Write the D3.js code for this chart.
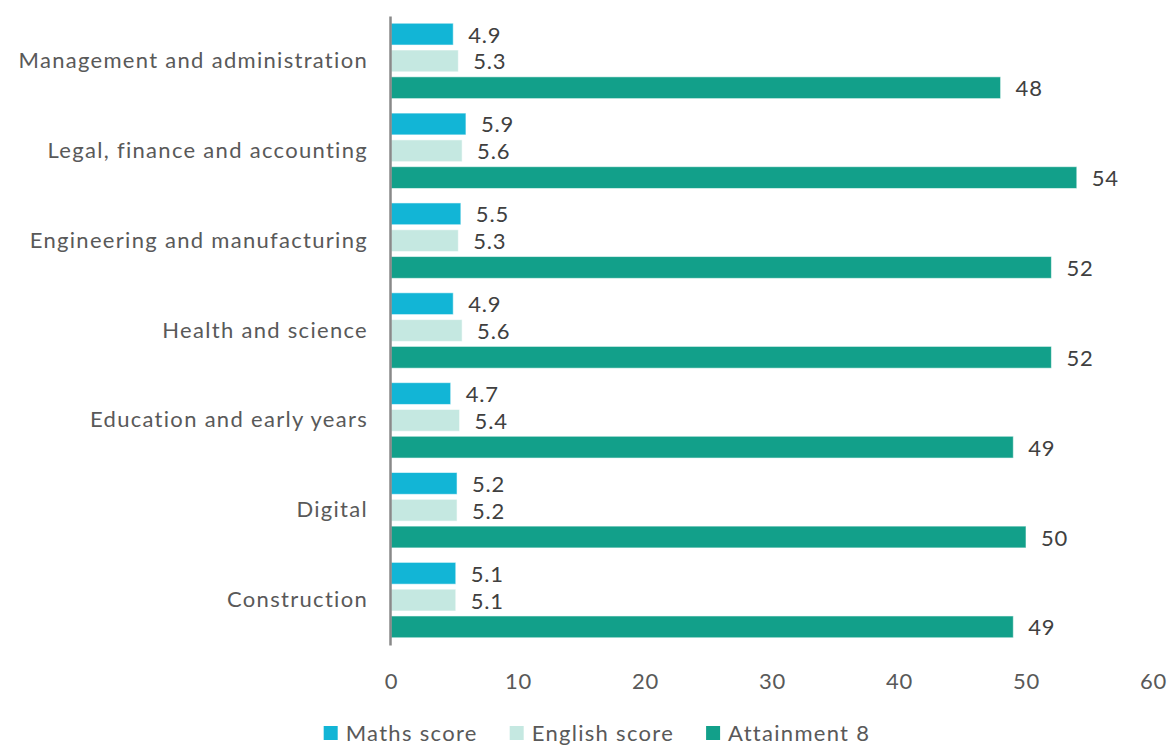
<!DOCTYPE html>
<html>
<head>
<meta charset="utf-8">
<script src="https://cdn.jsdelivr.net/npm/d3@7"></script>
<style>
  html, body { margin: 0; padding: 0; background: #fff; }
  svg { display: block; font-family: Lato, "Open Sans", sans-serif; }
</style>
</head>
<body>
<svg id="chart" width="1175" height="747"></svg>
<script>
// Categories, top to bottom
const categories = [
  "Management and administration",
  "Legal, finance and accounting",
  "Engineering and manufacturing",
  "Health and science",
  "Education and early years",
  "Digital",
  "Construction"
];
const seriesNames = ["Maths score", "English score", "Attainment 8"];
const seriesColors = ["#12b5d6", "#c5e8e1", "#12a08a"];
const mathsScore   = [4.9, 5.9, 5.5, 4.9, 4.7, 5.2, 5.1];
const englishScore = [5.3, 5.6, 5.3, 5.6, 5.4, 5.2, 5.1];
const attainment8  = [48, 54, 52, 52, 49, 50, 49];
const xTicks = [0, 10, 20, 30, 40, 50, 60];

const seriesValues = [mathsScore, englishScore, attainment8];
const rows = categories.map((c, i) => ({
  category: c,
  values: seriesNames.map((s, k) => ({ series: s, value: seriesValues[k][i], color: seriesColors[k] }))
}));

const svg = d3.select("#chart");
const plot = { left: 391, right: 1153, top: 16, bottom: 645 };
const fontSize = 22;
const spacing = "1.3px";

const x = d3.scaleLinear().domain([0, 60]).range([plot.left, plot.right]);
const y0 = d3.scaleBand().domain(categories).range([plot.top, plot.bottom]).paddingInner(0).paddingOuter(0);
const y1 = d3.scaleBand().domain(seriesNames).range([0, y0.bandwidth()]).paddingInner(0.187).paddingOuter(0.27);

const textGray = "#595959";
const valueGray = "#404040";

// Bars
const groups = svg.append("g").selectAll("g.group")
  .data(rows).join("g")
  .attr("class", "group")
  .attr("transform", d => `translate(0,${y0(d.category)})`);

groups.selectAll("rect")
  .data(d => d.values).join("rect")
  .attr("x", x(0))
  .attr("y", d => y1(d.series))
  .attr("width", d => x(d.value) - x(0))
  .attr("height", y1.bandwidth())
  .attr("fill", d => d.color)
  .attr("stroke", "#ffffff")
  .attr("stroke-opacity", 0.55)
  .attr("stroke-width", 1);

// Value labels
groups.selectAll("text.value")
  .data(d => d.values).join("text")
  .attr("class", "value")
  .attr("x", d => x(d.value) + 15)
  .attr("y", d => y1(d.series) + y1.bandwidth() / 2 + 8.5)
  .attr("font-size", fontSize)
  .attr("letter-spacing", "0.8px")
  .attr("fill", valueGray)
  .text(d => d.value);

// Category axis
const yAxis = svg.append("g")
  .attr("transform", `translate(${plot.left - 1},0)`)
  .call(d3.axisLeft(y0).tickSize(0).tickPadding(22));
yAxis.select(".domain").attr("stroke", "#898989").attr("stroke-width", 2.5);
yAxis.selectAll(".tick text")
  .attr("font-size", fontSize)
  .attr("letter-spacing", spacing)
  .attr("font-family", "Lato, 'Open Sans', sans-serif")
  .attr("fill", textGray);

// Value axis (labels only)
const xAxis = svg.append("g")
  .attr("transform", `translate(0,${plot.bottom})`)
  .call(d3.axisBottom(x).tickValues(xTicks).tickSize(0).tickPadding(28));
xAxis.select(".domain").remove();
xAxis.selectAll(".tick text")
  .attr("font-size", fontSize)
  .attr("letter-spacing", "0.8px")
  .attr("font-family", "Lato, 'Open Sans', sans-serif")
  .attr("fill", textGray);

// Legend
const legend = svg.append("g");
const items = legend.selectAll("g").data(seriesNames).join("g");
items.append("rect")
  .attr("width", 14).attr("height", 14)
  .attr("y", -15)
  .attr("fill", (d, i) => seriesColors[i]);
items.append("text")
  .attr("x", 22).attr("y", 0)
  .attr("font-size", fontSize)
  .attr("letter-spacing", spacing)
  .attr("fill", textGray)
  .text(d => d);
let offset = 0;
const positions = [];
items.each(function () {
  positions.push(offset);
  const w = 22 + this.querySelector("text").getComputedTextLength();
  offset += w + 32;
});
const legendWidth = offset - 32;
const legendX = 597 - legendWidth / 2;
items.attr("transform", (d, i) => `translate(${legendX + positions[i]},741)`);
</script>
</body>
</html>
